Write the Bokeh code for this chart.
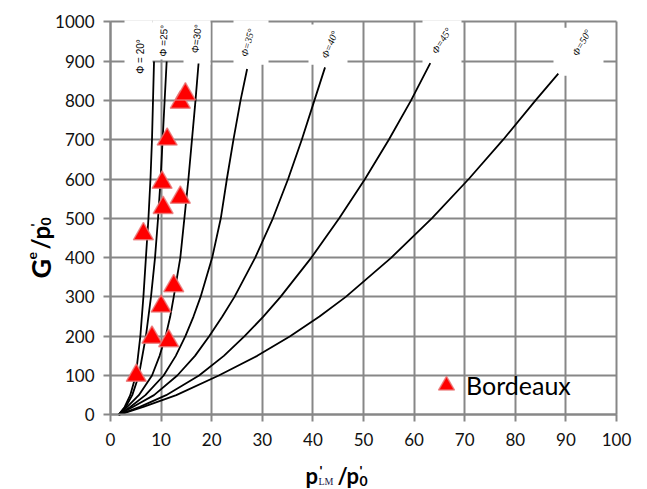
from bokeh.plotting import figure
from bokeh.models import Range1d, Label, Legend, LegendItem, FixedTicker, Grid
from bokeh.embed import file_html
from bokeh.resources import INLINE

# ---------------- data ----------------
x_ticks = [0, 10, 20, 30, 40, 50, 60, 70, 80, 90, 100]
y_ticks = [0, 100, 200, 300, 400, 500, 600, 700, 800, 900, 1000]

phi20_x = [1.6, 2.8, 3.9, 5.0, 5.9, 6.5, 7.0, 7.5, 7.9, 8.2, 8.4, 8.6]
phi20_y = [0, 20, 50, 100, 200, 300, 400, 500, 600, 700, 800, 899]

phi25_x = [1.6, 3.0, 4.3, 5.6, 7.0, 8.0, 8.8, 9.4, 9.9, 10.3, 10.7, 11.1]
phi25_y = [0, 20, 50, 100, 200, 300, 400, 500, 600, 700, 800, 899]

phi30_x = [1.6, 3.3, 5.6, 8.2, 9.7, 10.9, 11.8, 12.5, 13.8, 14.6, 15.4, 16.1, 16.8, 17.4]
phi30_y = [0, 20, 50, 100, 150, 200, 250, 300, 400, 500, 600, 700, 800, 894]

phi35_x = [1.6, 3.9, 6.9, 10.5, 12.9, 14.8, 16.4, 17.8, 20.1, 21.8, 23.0, 24.3, 25.7, 27.0]
phi35_y = [0, 20, 50, 100, 150, 200, 250, 300, 400, 500, 600, 700, 800, 880]

phi40_x = [1.6, 4.4, 8.6, 13.2, 16.7, 19.5, 22.1, 24.5, 28.6, 32.1, 35.1, 37.8, 40.3, 42.4]
phi40_y = [0, 20, 50, 100, 150, 200, 250, 300, 400, 500, 600, 700, 800, 884]

phi45_x = [1.6, 5.8, 11.0, 17.5, 22.4, 26.5, 30.2, 33.6, 39.7, 45.2, 50.3, 55.0, 59.4, 63.2]
phi45_y = [0, 20, 50, 100, 150, 200, 250, 300, 400, 500, 600, 700, 800, 895]

phi50_x = [1.6, 6.5, 13.0, 21.4, 29.0, 35.5, 41.3, 46.5, 55.5, 63.5, 70.8, 77.6, 84.0, 88.5]
phi50_y = [0, 20, 50, 100, 150, 200, 250, 300, 400, 500, 600, 700, 800, 868]

curve_names = ["Φ = 20°", "Φ =25°", "Φ=30°", "Φ=35°", "Φ=40°", "Φ=45°", "Φ=50°"]

bordeaux_x = [5.1, 8.2, 11.5, 10.0, 12.5, 6.5, 10.4, 13.8, 10.2, 11.2, 13.8, 14.8]
bordeaux_y = [100, 197, 188, 276, 328, 460, 527, 553, 591, 701, 795, 816]

# ---------------- figure ----------------
W, H = 646, 488
PX0, PY0 = 110.0, 414.3          # pixel of data origin
SX, SY = 5.06, 0.393             # pixels per data unit
p = figure(width=W, height=H, output_backend="svg", toolbar_location=None,
           x_range=Range1d(-PX0 / SX, (W - PX0) / SX),
           y_range=Range1d(-(H - PY0) / SY, PY0 / SY))
p.min_border = 0
p.min_border_left = p.min_border_right = p.min_border_top = p.min_border_bottom = 0
p.outline_line_color = None
p.background_fill_color = "white"
p.border_fill_color = "white"

GRID = "#878787"
for ax, ticks, bnd in ((p.xaxis, x_ticks, (0, 100)), (p.yaxis, y_ticks, (0, 1000))):
    ax.ticker = FixedTicker(ticks=ticks)
    ax.fixed_location = 0
    ax.bounds = bnd
    ax.axis_line_color = GRID
    ax.axis_line_width = 2
    ax.major_tick_line_color = GRID
    ax.major_tick_line_width = 2
    ax.major_tick_out = 7
    ax.major_tick_in = 0
    ax.minor_tick_line_color = None
    ax.major_label_text_font = "Lato"
    ax.major_label_text_font_size = "17px"
    ax.major_label_text_color = "#111111"
p.xaxis.major_label_standoff = 11
p.yaxis.major_label_standoff = 9

if "cross_bounds" in Grid.properties():
    for g, ticks, bnd, cb in ((p.xgrid, x_ticks, (0, 100), (0, 1000)),
                              (p.ygrid, y_ticks, (0, 1000), (0, 100))):
        g.ticker = FixedTicker(ticks=ticks)
        g.bounds = bnd
        g.cross_bounds = cb
        g.grid_line_color = GRID
        g.grid_line_width = 2
else:
    p.xgrid.visible = False
    p.ygrid.visible = False
    p.segment(x0=x_ticks, x1=x_ticks, y0=0, y1=1000, line_color=GRID, line_width=2)
    p.segment(x0=0, x1=100, y0=y_ticks, y1=y_ticks, line_color=GRID, line_width=2)

# white label boxes that hide parts of the grid at the top (layout only)
box_l = [2.77, 8.30, 14.43, 24.31, 39.13, 61.66, 87.55]
box_r = [8.30, 19.76, 19.76, 31.23, 46.84, 69.37, 97.43]
box_t = [1004, 1004, 905, 1004, 993, 1004, 985]
box_b = [891, 904, 891, 891, 891, 891, 863]
p.quad(left=box_l, right=box_r, top=box_t, bottom=box_b,
       fill_color="white", line_color=None)

curves = [(phi20_x, phi20_y), (phi25_x, phi25_y), (phi30_x, phi30_y), (phi35_x, phi35_y),
          (phi40_x, phi40_y), (phi45_x, phi45_y), (phi50_x, phi50_y)]
for cx, cy in curves:
    p.line(cx, cy, line_color="black", line_width=1.8, line_join="round")

# curve name labels (rotated)
lab_pos = [(5.93, 912, 90), (10.47, 952, 88), (17.0, 957, 83), (27.1, 947, 75),
           (43.3, 942, 68), (65.4, 952, 58), (93.1, 947, 61)]
for i, (name, (lx, ly, ang)) in enumerate(zip(curve_names, lab_pos)):
    serif = i >= 3
    p.add_layout(Label(x=lx, y=ly, text=name, angle=ang, angle_units="deg",
                       text_align="center", text_baseline="middle",
                       text_font="Liberation Serif" if serif else "Liberation Sans",
                       text_font_style="italic" if serif else "normal",
                       text_font_size="10px", text_color="black"))

pts = p.scatter(bordeaux_x, bordeaux_y, marker="triangle", size=20,
                fill_color="#ff0000", line_color="#e87a7a", line_width=1.5, line_alpha=0.8)

legend = Legend(items=[LegendItem(label="Bordeaux", renderers=[pts])],
                location=(426, 83), glyph_width=40, glyph_height=40, label_standoff=0,
                padding=0, margin=0, spacing=0, border_line_color=None,
                background_fill_alpha=0, label_text_font="Lato",
                label_text_font_size="25px", label_text_color="black")
p.add_layout(legend)

# axis titles composed of pieces (data units; the frame covers the canvas)
def px2x(px):
    return (px - PX0) / SX

def py2y(py):
    return (PY0 - py) / SY

def piece(text, px, py, size, angle=0, font="Lato", style="bold", color="black"):
    p.add_layout(Label(x=px2x(px), y=py2y(py), text=text,
                       angle=angle, angle_units="deg", text_align="left",
                       text_baseline="alphabetic", text_font=font,
                       text_font_style=style, text_font_size=size, text_color=color))

# x title: p'LM / p'0
piece("p", 305, 475, "22px")
piece("'", 319, 470, "14px")
piece("LM", 318, 481, "10px", font="Liberation Serif", style="normal", color="#1a1a4a")
piece("/", 337, 475, "22px")
piece("p", 346, 475, "22px")
piece("'", 359, 470, "14px")
piece("0", 359, 480, "14px")

# y title: Ge / p'0 (rotated)
piece("G", 40, 278, "27px", angle=90)
piece("e", 31, 259, "14px", angle=90)
piece("/", 40, 249, "24px", angle=90)
piece("p", 40, 239, "24px", angle=90)
piece("'", 35, 226, "14px", angle=90)
piece("0", 45, 225, "14px", angle=90)

open("out.html", "w").write(file_html(p, INLINE))
